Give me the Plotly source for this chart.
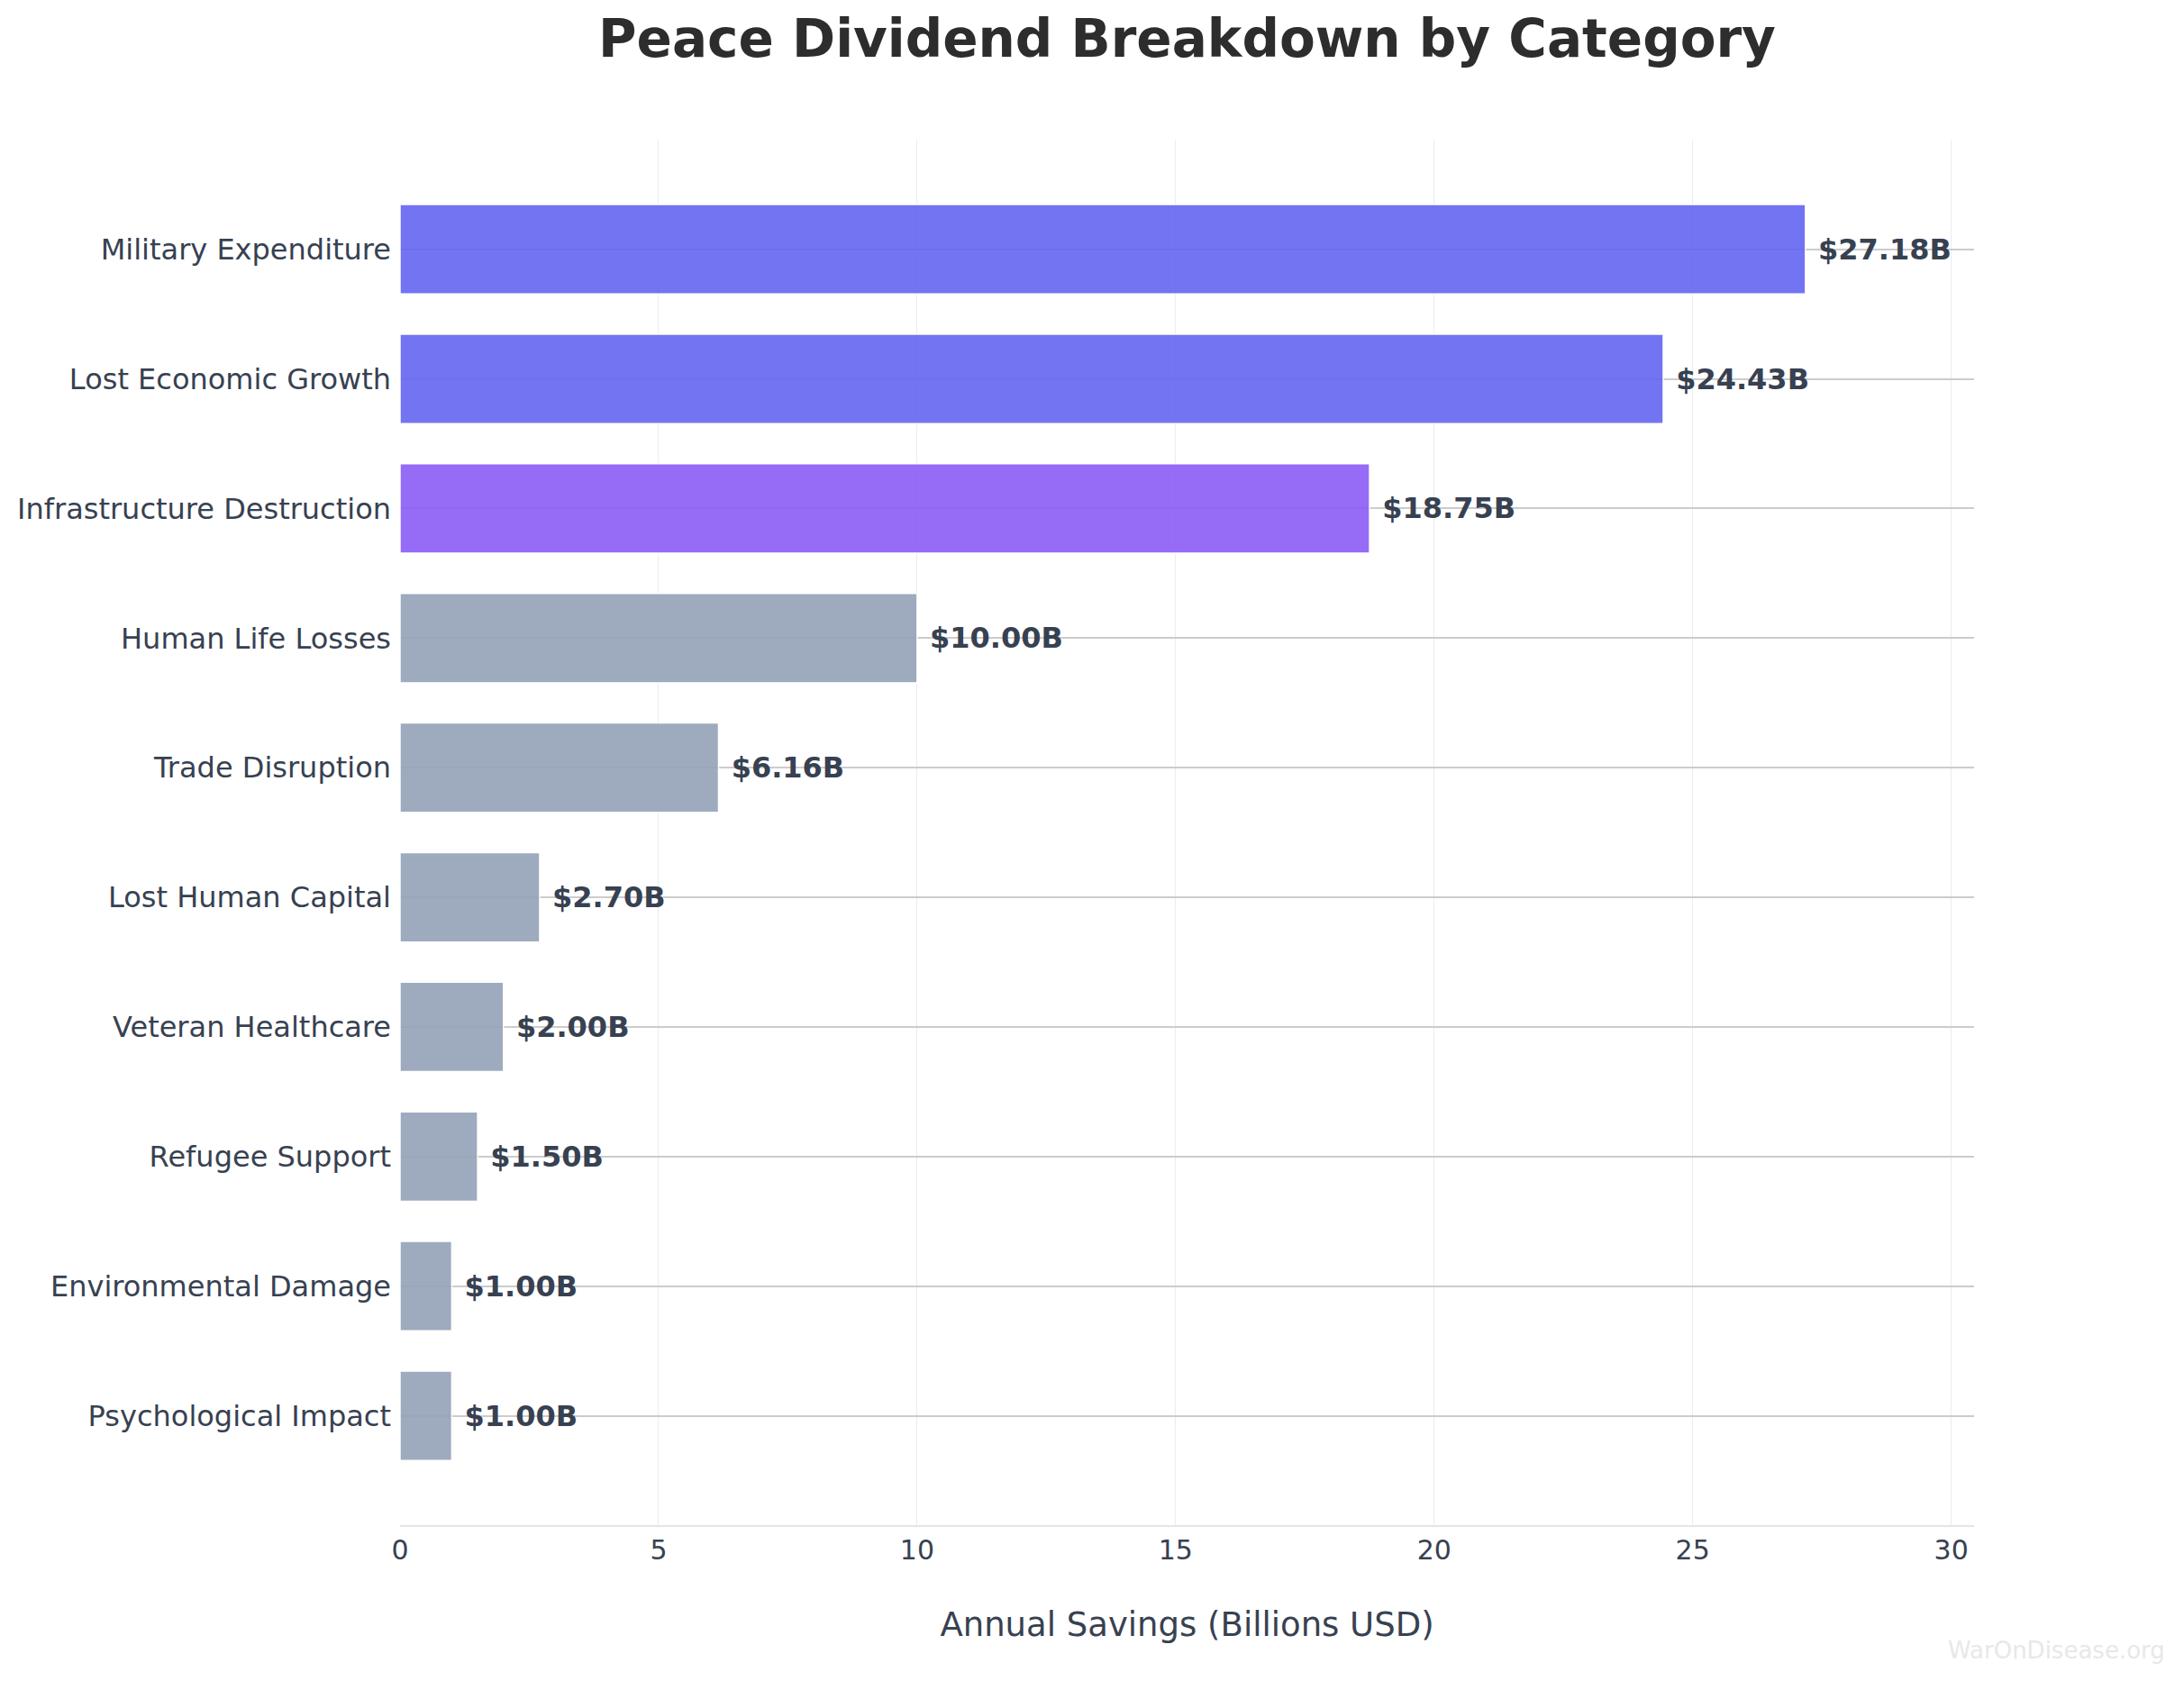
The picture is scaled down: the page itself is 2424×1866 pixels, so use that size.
import plotly.graph_objects as go

categories = ['Military Expenditure', 'Lost Economic Growth', 'Infrastructure Destruction',
              'Human Life Losses', 'Trade Disruption', 'Lost Human Capital',
              'Veteran Healthcare', 'Refugee Support', 'Environmental Damage',
              'Psychological Impact']
savings = [27.18, 24.43, 18.75, 10.00, 6.16, 2.70, 2.00, 1.50, 1.00, 1.00]

# top two in indigo, third violet, the rest slate
bar_colors = ['#6366f1', '#6366f1', '#8b5cf6'] + ['#94a3b8'] * 7
labels = [' $%.2fB' % v for v in savings]

font = 'DejaVu Sans'
text_color = '#374151'

fig = go.Figure(go.Bar(
    x=savings, y=categories, orientation='h',
    marker=dict(color=bar_colors, opacity=0.9, line=dict(color='white', width=1.5)),
    text=labels, textposition='outside', cliponaxis=False,
    textfont=dict(family=font, size=32, color=text_color, weight='bold'),
))

# page body has an 8px margin, so the figure is a bit smaller than the window
fig.update_layout(
    width=2416, height=1858,
    margin=dict(l=436, r=233, t=147, b=173),
    paper_bgcolor='white', plot_bgcolor='white',
    bargap=0.31, showlegend=False,
    font=dict(family=font, color=text_color),
    title=dict(text='<b>Peace Dividend Breakdown by Category</b>',
               x=0.5, xref='paper', y=1 - 35 / 1858, yref='container',
               yanchor='middle',
               font=dict(family=font, size=58, color='#2d2d2d')),
)
fig.update_xaxes(
    range=[0, max(savings) * 1.12], dtick=5,
    showgrid=True, gridcolor='#ececec', gridwidth=1,
    zeroline=False, showline=True, linecolor='#e5e5e5', linewidth=2,
    tickfont=dict(size=30, color=text_color),
    title=dict(text='Annual Savings (Billions USD)', standoff=53,
               font=dict(size=37, color=text_color)),
)
fig.update_yaxes(
    range=[9.844, -0.846],
    showgrid=True, gridcolor='#cccccc', gridwidth=2,
    zeroline=False, showline=False,
    tickfont=dict(size=32, color=text_color), ticklabelstandoff=9,
)
fig.add_annotation(text='WarOnDisease.org', xref='paper', yref='paper',
                   x=1.1225, y=-0.0904, xanchor='right', yanchor='middle',
                   showarrow=False, font=dict(family=font, size=26, color='#e8e8e8'))

fig.write_html('out.html')
